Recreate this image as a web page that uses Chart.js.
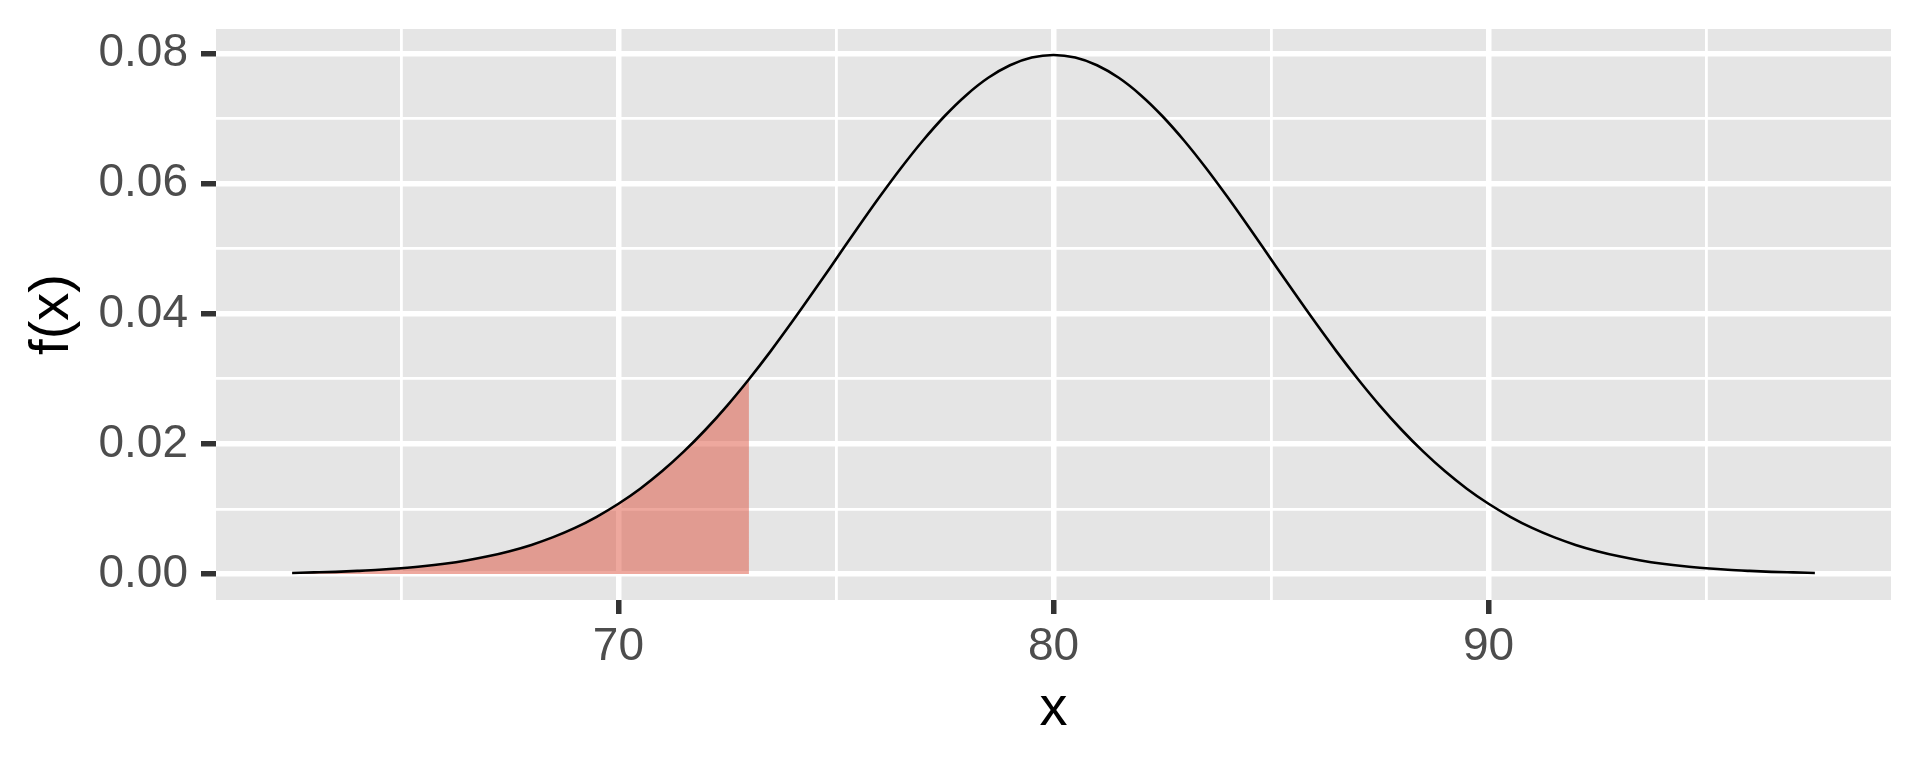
<!DOCTYPE html>
<html>
<head>
<meta charset="utf-8">
<script src="https://cdn.jsdelivr.net/npm/chart.js@4/dist/chart.umd.min.js"></script>
<style>
  body { margin: 0; background: #ffffff; }
  canvas { display: block; }
</style>
</head>
<body>
<canvas id="grafico" width="1920" height="768"></canvas>
<script>
// valores x (62.5 a 97.5)
const xValores = [
  62.5, 63, 63.5, 64, 64.5, 65, 65.5, 66, 66.5, 67, 67.5, 68, 68.5, 69, 69.5,
  70, 70.5, 71, 71.5, 72, 72.5, 73, 73.5, 74, 74.5, 75, 75.5, 76, 76.5, 77, 77.5,
  78, 78.5, 79, 79.5, 80, 80.5, 81, 81.5, 82, 82.5, 83, 83.5, 84, 84.5, 85, 85.5,
  86, 86.5, 87, 87.5, 88, 88.5, 89, 89.5, 90, 90.5, 91, 91.5, 92, 92.5, 93, 93.5,
  94, 94.5, 95, 95.5, 96, 96.5, 97, 97.5
];

// f(x) en cada punto
const densidad = [
  0.00017, 0.00025, 0.00034, 0.00048, 0.00065, 0.00089, 0.00119, 0.00158, 0.00208, 0.00272,
  0.00351, 0.00448, 0.00567, 0.00709, 0.00880, 0.01080, 0.01312, 0.01579, 0.01881, 0.02218,
  0.02590, 0.02995, 0.03427, 0.03884, 0.04357, 0.04839, 0.05322, 0.05794, 0.06245, 0.06664,
  0.07041, 0.07365, 0.07628, 0.07821, 0.07939, 0.07979, 0.07939, 0.07821, 0.07628, 0.07365,
  0.07041, 0.06664, 0.06245, 0.05794, 0.05322, 0.04839, 0.04357, 0.03884, 0.03427, 0.02995,
  0.02590, 0.02218, 0.01881, 0.01579, 0.01312, 0.01080, 0.00880, 0.00709, 0.00567, 0.00448,
  0.00351, 0.00272, 0.00208, 0.00158, 0.00119, 0.00089, 0.00065, 0.00048, 0.00034, 0.00025,
  0.00017
];

// area sombreada hasta x = 73
const limiteSombra = 73;

// marcas de los ejes
const ticksX = [65, 70, 75, 80, 85, 90, 95];
const etiquetasX = [70, 80, 90];
const ticksY = [0, 0.01, 0.02, 0.03, 0.04, 0.05, 0.06, 0.07, 0.08];
const etiquetasY = [0, 0.02, 0.04, 0.06, 0.08];

const puntos = xValores.map((x, i) => ({ x: x, y: densidad[i] }));
const puntosSombra = puntos.filter(p => p.x <= limiteSombra);

const esMayorX = v => etiquetasX.some(e => Math.abs(e - v) < 1e-9);
const esMayorY = v => etiquetasY.some(e => Math.abs(e - v) < 1e-9);

// fondo gris del panel
const fondoPanel = {
  id: "fondoPanel",
  beforeDraw(chart) {
    const a = chart.chartArea;
    const ctx = chart.ctx;
    ctx.save();
    ctx.fillStyle = "#E5E5E5";
    ctx.fillRect(a.left, a.top, a.right - a.left, a.bottom - a.top);
    ctx.restore();
  }
};

const fuente = "'Liberation Sans', Arial, sans-serif";

new Chart(document.getElementById("grafico").getContext("2d"), {
  type: "line",
  data: {
    datasets: [
      {
        data: puntos,
        borderColor: "#000000",
        borderWidth: 2.6,
        pointRadius: 0,
        fill: false,
        cubicInterpolationMode: "monotone",
        order: 0
      },
      {
        data: puntosSombra,
        borderWidth: 0,
        borderColor: "rgba(0,0,0,0)",
        backgroundColor: "rgba(222,82,62,0.5)",
        pointRadius: 0,
        fill: "origin",
        cubicInterpolationMode: "monotone",
        order: 1
      }
    ]
  },
  options: {
    responsive: false,
    animation: false,
    events: [],
    layout: { padding: { top: 29, right: 29, left: 0, bottom: 0 } },
    plugins: {
      legend: { display: false },
      tooltip: { enabled: false }
    },
    scales: {
      x: {
        type: "linear",
        min: 60.75,
        max: 99.25,
        afterBuildTicks: s => { s.ticks = ticksX.map(v => ({ value: v })); },
        afterFit: s => { s.height = 168; s.paddingLeft = 0; s.paddingRight = 0; },
        border: { display: false },
        grid: {
          color: "#FFFFFF",
          lineWidth: c => (c.tick && esMayorX(c.tick.value)) ? 5.5 : 2.8,
          tickColor: c => (c.tick && esMayorX(c.tick.value)) ? "#333333" : "rgba(0,0,0,0)",
          tickWidth: 5.5,
          tickLength: 14
        },
        ticks: {
          autoSkip: false,
          maxRotation: 0,
          padding: 6,
          color: "#4D4D4D",
          font: { family: fuente, size: 46 },
          callback: v => esMayorX(v) ? String(v) : ""
        },
        title: {
          display: true,
          text: "x",
          color: "#000000",
          font: { family: fuente, size: 56 },
          padding: { top: 0, bottom: 25 }
        }
      },
      y: {
        type: "linear",
        min: -0.00399,
        max: 0.08378,
        afterBuildTicks: s => { s.ticks = ticksY.map(v => ({ value: v })); },
        afterFit: s => { s.width = 216; s.paddingTop = 0; s.paddingBottom = 0; },
        border: { display: false },
        grid: {
          color: "#FFFFFF",
          lineWidth: c => (c.tick && esMayorY(c.tick.value)) ? 5.5 : 2.8,
          tickColor: c => (c.tick && esMayorY(c.tick.value)) ? "#333333" : "rgba(0,0,0,0)",
          tickWidth: 5.5,
          tickLength: 15
        },
        ticks: {
          autoSkip: false,
          padding: 13,
          color: "#4D4D4D",
          font: { family: fuente, size: 46 },
          callback: v => esMayorY(v) ? v.toFixed(2) : ""
        },
        title: {
          display: true,
          text: "f(x)",
          color: "#000000",
          font: { family: fuente, size: 56 },
          padding: { top: 19, bottom: 0 }
        }
      }
    }
  },
  plugins: [fondoPanel]
});
</script>
</body>
</html>
